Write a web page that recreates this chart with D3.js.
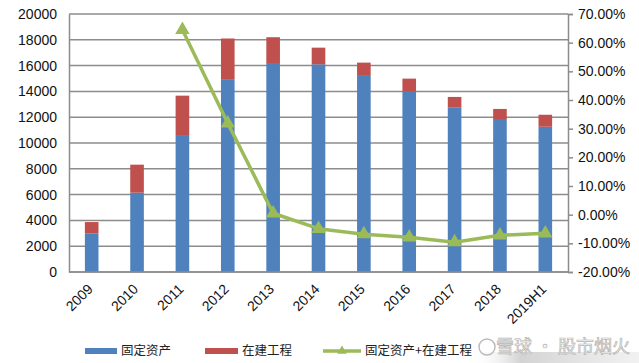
<!DOCTYPE html>
<html>
<head>
<meta charset="utf-8">
<script src="https://cdn.jsdelivr.net/npm/d3@7"></script>
<style>
  body { margin: 0; background: #fff; }
  svg { display: block; font-family: "Liberation Sans", Arial, sans-serif; }
</style>
</head>
<body>
<svg id="chart"></svg>
<script>
// values
const years = ['2009', '2010', '2011', '2012', '2013', '2014', '2015', '2016', '2017', '2018', '2019H1'];
const fixedAssets = [3000, 6150, 10550, 14950, 16200, 16100, 15200, 14030, 12770, 11860, 11260];
const construction = [870, 2170, 3120, 3150, 2000, 1290, 1030, 960, 800, 780, 930];
const growth = [null, null, 0.645, 0.319, 0.005, -0.049, -0.068, -0.079, -0.096, -0.072, -0.065];
const leftTicks = [0, 2000, 4000, 6000, 8000, 10000, 12000, 14000, 16000, 18000, 20000];
const rightTicks = [-0.2, -0.1, 0, 0.1, 0.2, 0.3, 0.4, 0.5, 0.6, 0.7];
const seriesNames = ['固定资产', '在建工程', '固定资产+在建工程'];

const W = 639, H = 363;
const margin = {top: 14, right: 71, bottom: 91, left: 69};
const blue = '#4f81bd', red = '#c0504d', green = '#9bbb59', grid = '#8c8c8c';

const svg = d3.select('#chart').attr('width', W).attr('height', H);

const x = d3.scaleBand().domain(years)
  .range([margin.left, W - margin.right])
  .paddingInner(0.7).paddingOuter(0.35);
const y = d3.scaleLinear().domain([0, 20000]).range([H - margin.bottom, margin.top]);
const y2 = d3.scaleLinear().domain([-0.2, 0.7]).range([H - margin.bottom, margin.top]);

// gridlines
svg.append('g').selectAll('line').data(leftTicks).join('line')
  .attr('x1', margin.left).attr('x2', W - margin.right)
  .attr('y1', d => y(d)).attr('y2', d => y(d))
  .attr('stroke', grid).attr('stroke-width', 1.5);

// left axis
const yAxis = d3.axisLeft(y).tickValues(leftTicks).tickSize(0).tickPadding(12)
  .tickFormat(d3.format('d'));
const gy = svg.append('g').attr('transform', `translate(${margin.left},0)`).call(yAxis);
gy.select('.domain').attr('stroke', grid).attr('stroke-width', 1.5);
gy.selectAll('text').attr('font-size', 14).attr('fill', '#111')
  .attr('font-family', '"Liberation Sans", Arial, sans-serif');

// right axis
const y2Axis = d3.axisRight(y2).tickValues(rightTicks).tickSize(5).tickPadding(5)
  .tickFormat(d => (d * 100).toFixed(2) + '%');
const gy2 = svg.append('g').attr('transform', `translate(${W - margin.right},0)`).call(y2Axis);
gy2.select('.domain').attr('stroke', grid).attr('stroke-width', 1.5);
gy2.selectAll('line').attr('stroke', grid).attr('stroke-width', 1.5);
gy2.selectAll('text').attr('font-size', 14).attr('fill', '#111')
  .attr('font-family', '"Liberation Sans", Arial, sans-serif');

// stacked bars
const rows = years.map((yr, i) => ({year: yr, fixed: fixedAssets[i], cip: construction[i]}));
const stacked = d3.stack().keys(['fixed', 'cip'])(rows);
const colors = {fixed: blue, cip: red};
svg.append('g').selectAll('g').data(stacked).join('g')
  .attr('fill', d => colors[d.key])
  .selectAll('rect').data(d => d).join('rect')
  .attr('x', d => x(d.data.year))
  .attr('width', x.bandwidth())
  .attr('y', d => y(d[1]))
  .attr('height', d => y(d[0]) - y(d[1]));

// bottom axis line
svg.append('line')
  .attr('x1', margin.left).attr('x2', W - margin.right)
  .attr('y1', y(0)).attr('y2', y(0))
  .attr('stroke', grid).attr('stroke-width', 1.5);

// x labels, rotated
svg.append('g').selectAll('text').data(years).join('text')
  .attr('transform', d => `translate(${x(d) + x.bandwidth() / 2 + 2},${H - margin.bottom + 18}) rotate(-45)`)
  .attr('text-anchor', 'end')
  .attr('font-size', 14).attr('fill', '#111')
  .text(d => d);

// growth line
const pts = years.map((yr, i) => ({year: yr, v: growth[i]})).filter(d => d.v !== null);
const cx = d => x(d.year) + x.bandwidth() / 2;
svg.append('path').datum(pts)
  .attr('fill', 'none').attr('stroke', green).attr('stroke-width', 3.5)
  .attr('stroke-linejoin', 'round')
  .attr('d', d3.line().x(cx).y(d => y2(d.v)));
const tri = d3.symbol().type(d3.symbolTriangle).size(90);
svg.append('g').selectAll('path').data(pts).join('path')
  .attr('transform', d => `translate(${cx(d)},${y2(d.v)})`)
  .attr('d', tri).attr('fill', green);

// legend
const lg = svg.append('g').attr('font-family', '"Noto Sans CJK SC", sans-serif')
  .attr('font-size', 12.5).attr('fill', '#222');
const ly = 351;
lg.append('rect').attr('x', 85).attr('y', ly - 3).attr('width', 32).attr('height', 6).attr('fill', blue);
lg.append('text').attr('x', 121).attr('y', ly).attr('dy', '0.35em').text(seriesNames[0]);
lg.append('rect').attr('x', 205).attr('y', ly - 3).attr('width', 33).attr('height', 6).attr('fill', red);
lg.append('text').attr('x', 242).attr('y', ly).attr('dy', '0.35em').text(seriesNames[1]);
lg.append('line').attr('x1', 323).attr('x2', 361).attr('y1', ly).attr('y2', ly)
  .attr('stroke', green).attr('stroke-width', 3.5);
lg.append('path').attr('transform', `translate(342,${ly})`)
  .attr('d', d3.symbol().type(d3.symbolTriangle).size(40)).attr('fill', green);
lg.append('text').attr('x', 365).attr('y', ly).attr('dy', '0.35em').text(seriesNames[2]);

// watermark
const defs = svg.append('defs');
const grad = defs.append('linearGradient').attr('id', 'wm');
grad.append('stop').attr('offset', '0%').attr('stop-color', '#fff').attr('stop-opacity', 0);
grad.append('stop').attr('offset', '30%').attr('stop-color', '#c8c8c8').attr('stop-opacity', 0.8);
grad.append('stop').attr('offset', '100%').attr('stop-color', '#e8e8e8').attr('stop-opacity', 0.6);
svg.append('rect').attr('x', 470).attr('y', 352).attr('width', 169).attr('height', 11).attr('fill', 'url(#wm)');
svg.append('circle').attr('cx', 487).attr('cy', 347).attr('r', 8)
  .attr('fill', 'none').attr('stroke', '#bbb').attr('stroke-width', 1.5);
svg.append('text').attr('x', 496).attr('y', 347).attr('dy', '0.35em')
  .attr('font-family', '"Noto Sans CJK SC", sans-serif').attr('font-size', 18)
  .attr('fill', '#f4f4f4').attr('stroke', '#b5b5b5').attr('stroke-width', 0.7)
  .text('雪球 · 股市烟火');
</script>
</body>
</html>
